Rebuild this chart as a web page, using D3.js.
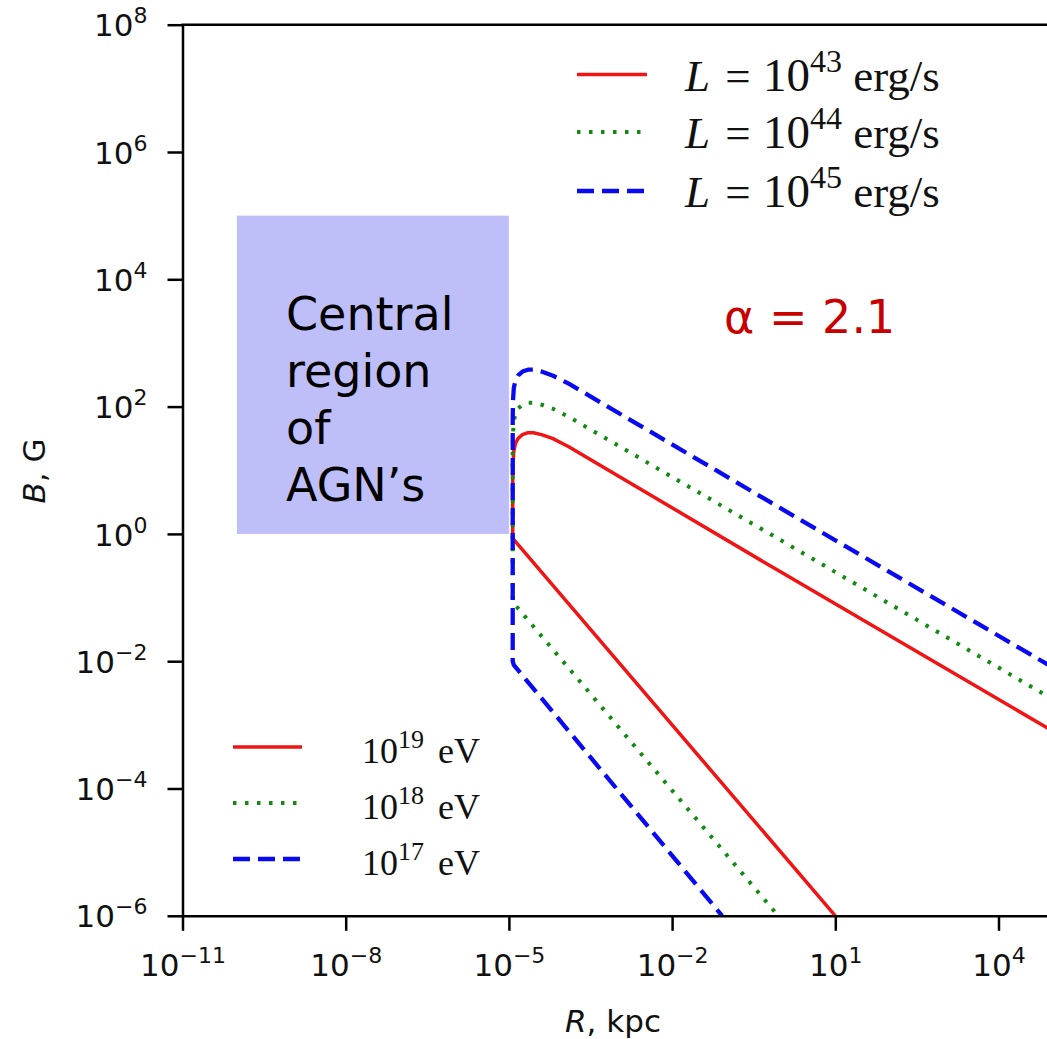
<!DOCTYPE html>
<html lang="en">
	<head>
		<meta charset="utf-8">
		<title>B vs R</title>
		<script src="https://d3js.org/d3.v7.min.js"></script>
		<style type="text/css">
body { margin: 0; background: #fff; }
svg { display: block; font-family: "DejaVu Sans", sans-serif; }
		</style>
	</head>
	<body>
<div id="chart"></div>
		<script type="text/javascript">
// tick exponents
var xTickExp = [-11, -8, -5, -2, 1, 4];
var yTickExp = [8, 6, 4, 2, 0, -2, -4, -6];

// legend labels
var lumExp = ["43", "44", "45"];
var energyExp = ["19", "18", "17"];

// curves as [log10 R (kpc), log10 B (G)]
var redCurve = [[5, -3.1], [0, -0.6], [-3.9, 1.37], [-4.2, 1.5], [-4.4, 1.56], [-4.55, 1.59], [-4.65, 1.59],
                [-4.75, 1.56], [-4.83, 1.5], [-4.88, 1.42], [-4.91, 1.3], [-4.925, 1.1], [-4.93, 0.8],
                [-4.93, -0.07], [1, -6]];
var greenCurve = [[5, -2.6], [0, -0.1], [-3.9, 1.84], [-4.2, 1.97], [-4.4, 2.03], [-4.55, 2.06], [-4.65, 2.06],
                  [-4.75, 2.03], [-4.83, 1.97], [-4.88, 1.89], [-4.91, 1.77], [-4.925, 1.57], [-4.93, 1.27],
                  [-4.93, -1.07], [-0.05, -6]];
var blueCurve = [[5, -2.1], [0, 0.4], [-3.9, 2.36], [-4.2, 2.49], [-4.4, 2.55], [-4.55, 2.58], [-4.65, 2.58],
                 [-4.75, 2.55], [-4.83, 2.49], [-4.88, 2.41], [-4.91, 2.29], [-4.925, 2.09], [-4.93, 1.79],
                 [-4.93, -2.0], [-4.91, -2.06], [-4.87, -2.1], [-1.08, -6]];

// shaded central region (log10 values)
var regionR = [-10, -5];
var regionB = [0, 5];

var w = 1047;
var h = 1039;

var xScale = d3.scaleLog().domain([1e-11, 1e5]).range([182.5, 1052.9]);
var yScale = d3.scaleLog().domain([1e-6, 1e8]).range([915.8, 24.7]);

var svg = d3.select("#chart").append("svg")
	.attr("width", w)
	.attr("height", h);

svg.append("defs").append("clipPath").attr("id", "plotclip")
	.append("rect")
	.attr("x", xScale.range()[0]).attr("y", yScale.range()[1])
	.attr("width", xScale.range()[1] - xScale.range()[0])
	.attr("height", yScale.range()[0] - yScale.range()[1]);

// central region box
svg.append("rect")
	.attr("x", xScale(Math.pow(10, regionR[0])))
	.attr("y", yScale(Math.pow(10, regionB[1])))
	.attr("width", xScale(Math.pow(10, regionR[1])) - xScale(Math.pow(10, regionR[0])))
	.attr("height", yScale(Math.pow(10, regionB[0])) - yScale(Math.pow(10, regionB[1])))
	.attr("fill", "#bebef9");

var boxText = svg.append("text")
	.attr("x", 286)
	.attr("y", 330)
	.attr("font-size", 46)
	.attr("fill", "#000");
["Central", "region", "of", "AGN\u2019s"].forEach(function(t, i) {
	boxText.append("tspan").attr("x", 286).attr("dy", i == 0 ? 0 : 57).text(t);
});

svg.append("text")
	.attr("x", 724)
	.attr("y", 333)
	.attr("font-size", 46)
	.attr("fill", "#c80000")
	.text("\u03b1 = 2.1");

// line styles
var styles = [
	{color: "#f01414", width: 3.5, dash: null},
	{color: "#138a13", width: 4, dash: "3.5,8.5"},
	{color: "#0a0af0", width: 4.3, dash: "17,8"}
];
var curves = [redCurve, greenCurve, blueCurve];

var line = d3.line()
	.x(d => xScale(Math.pow(10, d[0])))
	.y(d => yScale(Math.pow(10, d[1])));

var plot = svg.append("g").attr("clip-path", "url(#plotclip)");
curves.forEach(function(c, i) {
	plot.append("path")
		.attr("d", line(c))
		.attr("fill", "none")
		.attr("stroke", styles[i].color)
		.attr("stroke-width", styles[i].width)
		.attr("stroke-dasharray", styles[i].dash)
		.attr("stroke-linejoin", "round");
});

// axes
function powLabel(sel, supFs, rise) {
	sel.each(function(d) {
		var e = Math.round(Math.log10(d));
		var t = d3.select(this).text(null);
		t.append("tspan").text("10");
		t.append("tspan").attr("dy", -rise).attr("font-size", supFs).text(e < 0 ? "\u2212" + (-e) : e);
	});
}

var xAxis = d3.axisBottom(xScale)
	.tickValues(xTickExp.map(e => Math.pow(10, e)))
	.tickSize(15)
	.tickSizeOuter(0)
	.tickPadding(14);

var yAxis = d3.axisLeft(yScale)
	.tickValues(yTickExp.map(e => Math.pow(10, e)))
	.tickSize(15)
	.tickSizeOuter(0)
	.tickPadding(20);

var gx = svg.append("g")
	.attr("transform", "translate(0," + yScale.range()[0] + ")")
	.call(xAxis);
gx.selectAll("text").attr("dy", "1.0em");

var gy = svg.append("g")
	.attr("transform", "translate(" + xScale.range()[0] + ",0)")
	.call(yAxis);
gy.selectAll("text").attr("dy", "0.36em");

[gx, gy].forEach(function(g) {
	g.attr("font-family", "DejaVu Sans, sans-serif").attr("font-size", 31);
	g.selectAll("text").attr("fill", "#111").call(powLabel, 22, 13);
	g.selectAll("path.domain").attr("stroke", "#000").attr("stroke-width", 2.5);
	g.selectAll("line").attr("stroke", "#000").attr("stroke-width", 2.5);
});

// top spine
svg.append("line")
	.attr("x1", xScale.range()[0] - 1).attr("x2", xScale.range()[1])
	.attr("y1", yScale.range()[1]).attr("y2", yScale.range()[1])
	.attr("stroke", "#000").attr("stroke-width", 2.5);

// axis labels
var xl = svg.append("text")
	.attr("x", 613).attr("y", 1032)
	.attr("text-anchor", "middle")
	.attr("font-size", 31)
	.attr("fill", "#111");
xl.append("tspan").attr("font-style", "italic").text("R");
xl.append("tspan").text(", kpc");

var yl = svg.append("text")
	.attr("transform", "translate(45,471) rotate(-90)")
	.attr("text-anchor", "middle")
	.attr("font-size", 31)
	.attr("fill", "#111");
yl.append("tspan").attr("font-style", "italic").text("B");
yl.append("tspan").text(", G");

// legends
var serif = "'Liberation Serif', 'DejaVu Serif', serif";
var topRows = [74.5, 132, 191];
var botRows = [747, 803, 859];

styles.forEach(function(s, i) {
	svg.append("line")
		.attr("x1", 577).attr("x2", 647)
		.attr("y1", topRows[i]).attr("y2", topRows[i])
		.attr("stroke", s.color).attr("stroke-width", s.width)
		.attr("stroke-dasharray", s.dash);
	var t = svg.append("text")
		.attr("x", 685).attr("y", topRows[i] + 16)
		.attr("font-family", serif).attr("font-size", 45).attr("fill", "#111");
	t.append("tspan").attr("font-style", "italic").text("L");
	t.append("tspan").attr("dx", 4).text(" = ");
	t.append("tspan").attr("dx", 1).attr("font-size", 47).text("10");
	t.append("tspan").attr("dy", -19).attr("font-size", 32).text(lumExp[i]);
	t.append("tspan").attr("dy", 19).text(" erg/s");

	svg.append("line")
		.attr("x1", 233).attr("x2", 302)
		.attr("y1", botRows[i]).attr("y2", botRows[i])
		.attr("stroke", s.color).attr("stroke-width", s.width)
		.attr("stroke-dasharray", s.dash);
	var b = svg.append("text")
		.attr("x", 362).attr("y", botRows[i] + 16)
		.attr("font-family", serif).attr("font-size", 36).attr("fill", "#111");
	b.append("tspan").text("10");
	b.append("tspan").attr("dy", -15).attr("font-size", 26).text(energyExp[i]);
	b.append("tspan").attr("dy", 15).attr("dx", 5).text(" eV");
});

		</script>
	</body>
</html>
